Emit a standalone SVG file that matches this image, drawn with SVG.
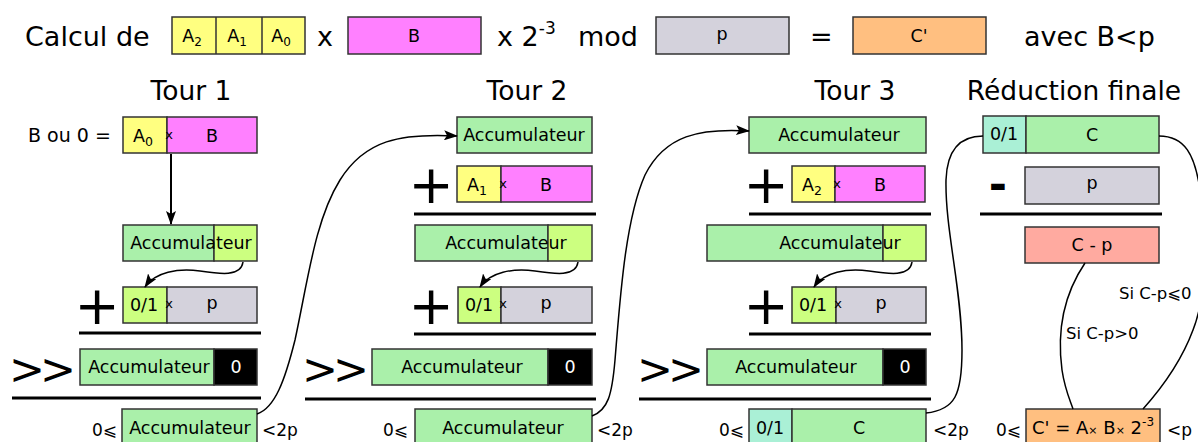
<svg xmlns="http://www.w3.org/2000/svg" width="1198" height="442" viewBox="0 0 1198 442">
<defs>
<style>
text{font-family:"DejaVu Sans","Liberation Sans",sans-serif;fill:#000}
.t{font-size:17.5px;text-anchor:middle}
.big{font-size:27px}
.title{font-size:26.5px;text-anchor:middle}
.sm{font-size:17px}
.lbl{font-size:16.5px}
.op{font-size:54px;text-anchor:middle}
.shr{font-size:43px;letter-spacing:-5px}
.x{font-size:13px;text-anchor:middle}
.w{fill:#fff}
rect{stroke:#333;stroke-width:1.5}
.ye{fill:#ffff80}.ma{fill:#ff80ff}.gr{fill:#d4d2dc}.ac{fill:#aaf0aa}.yg{fill:#ccff80}.bk{fill:#000}.te{fill:#aaf0d6}.sa{fill:#ffaaa0}.or{fill:#ffbf80}
.sep{stroke:#000;stroke-width:3}
.div{stroke:#333;stroke-width:1.5}
.c{fill:none;stroke:#000;stroke-width:1.5}
</style>
<marker id="ah" viewBox="0 0 14 10" refX="13" refY="5" markerWidth="14" markerHeight="10" markerUnits="userSpaceOnUse" orient="auto">
<path d="M0,0 L14,5 L0,10 L3,5 Z" fill="#000"/>
</marker>
</defs>

<g id="header">
<text class="big" x="25" y="46" font-size="28">Calcul de</text>
<g id="hdrA">
<rect class="ye" x="172" y="17" width="133" height="37"/>
<line class="div" x1="216" y1="17" x2="216" y2="54"/>
<line class="div" x1="262" y1="17" x2="262" y2="54"/>
<text class="t" x="192" y="42">A<tspan font-size="12" dy="4">2</tspan></text>
<text class="t" x="237" y="42">A<tspan font-size="12" dy="4">1</tspan></text>
<text class="t" x="281" y="42">A<tspan font-size="12" dy="4">0</tspan></text>
</g>
<text class="big" x="317" y="46">x</text>
<g id="hdrB"><rect class="ma" x="348" y="17" width="133" height="37"/><text class="t" x="414" y="42">B</text></g>
<text class="big" x="497" y="46">x 2<tspan font-size="17" dy="-12">-3</tspan></text>
<text class="big" x="578" y="46">mod</text>
<g id="hdrP"><rect class="gr" x="656" y="17" width="133" height="37"/><text class="t" x="722" y="40">p</text></g>
<text class="big" x="810" y="46">=</text>
<g id="hdrC"><rect class="or" x="853" y="17" width="133" height="37"/><text class="t" x="919" y="42">C'</text></g>
<text class="big" x="1024" y="46">avec B&lt;p</text>
</g>

<g id="titles">
<text class="title" x="191" y="100">Tour 1</text>
<text class="title" x="527" y="100">Tour 2</text>
<text class="title" x="855" y="100">Tour 3</text>
<text class="title" x="1074" y="100">Réduction finale</text>
</g>

<g id="tour1">
<text x="28" y="142" font-size="19">B ou 0 =</text>
<g id="t1-ab">
<rect class="ye" x="123" y="117" width="44" height="36"/>
<rect class="ma" x="167" y="117" width="90" height="36"/>
<text class="t" x="143" y="142">A<tspan font-size="12.5" dy="4">0</tspan></text>
<text class="x" x="169" y="139">x</text>
<text class="t" x="212" y="142">B</text>
</g>
<g id="t1-acc">
<rect class="ac" x="123" y="225" width="91" height="36"/>
<rect class="yg" x="214" y="225" width="43" height="36"/>
<text class="t" x="191" y="249">Accumulateur</text>
</g>
<text class="op" x="97" y="324">+</text>
<g id="t1-p">
<rect class="yg" x="123" y="287" width="44" height="36"/>
<rect class="gr" x="167" y="287" width="90" height="36"/>
<text class="t" x="144" y="311">0/1</text>
<text class="x" x="169" y="308">x</text>
<text class="t" x="212" y="309">p</text>
</g>
<line class="sep" x1="79" y1="333" x2="261" y2="333"/>
<text class="shr" x="9" y="384">&gt;&gt;</text>
<g id="t1-shift">
<rect class="ac" x="80" y="349" width="134" height="36"/>
<rect class="bk" x="214" y="349" width="43" height="36"/>
<text class="t" x="149" y="373">Accumulateur</text>
<text class="t w" x="236" y="373">0</text>
</g>
<line class="sep" x1="12" y1="398" x2="261" y2="398"/>
<g id="t1-out">
<text class="sm" x="117" y="436" text-anchor="end">0⩽</text>
<rect class="ac" x="122" y="409" width="135" height="40"/>
<text class="t" x="190" y="434">Accumulateur</text>
<text class="sm" x="262" y="436">&lt;2p</text>
</g>
</g>

<g id="tour2">
<g id="t2-in"><rect class="ac" x="457" y="117" width="135" height="36"/><text class="t" x="524" y="141">Accumulateur</text></g>
<text class="op" x="431" y="203">+</text>
<g id="t2-ab">
<rect class="ye" x="457" y="166" width="44" height="36"/>
<rect class="ma" x="501" y="166" width="91" height="36"/>
<text class="t" x="477" y="191">A<tspan font-size="12.5" dy="4">1</tspan></text>
<text class="x" x="503" y="188">x</text>
<text class="t" x="546" y="191">B</text>
</g>
<line class="sep" x1="414" y1="214" x2="596" y2="214"/>
<g id="t2-acc">
<rect class="ac" x="415" y="225" width="133" height="36"/>
<rect class="yg" x="548" y="225" width="44" height="36"/>
<text class="t" x="506" y="249">Accumulateur</text>
</g>
<text class="op" x="431" y="324">+</text>
<g id="t2-p">
<rect class="yg" x="458" y="287" width="43" height="36"/>
<rect class="gr" x="501" y="287" width="91" height="36"/>
<text class="t" x="479" y="311">0/1</text>
<text class="x" x="503" y="308">x</text>
<text class="t" x="546" y="309">p</text>
</g>
<line class="sep" x1="414" y1="334" x2="596" y2="334"/>
<text class="shr" x="302" y="384">&gt;&gt;</text>
<g id="t2-shift">
<rect class="ac" x="372" y="349" width="176" height="36"/>
<rect class="bk" x="548" y="349" width="44" height="36"/>
<text class="t" x="462" y="373">Accumulateur</text>
<text class="t w" x="570" y="373">0</text>
</g>
<line class="sep" x1="305" y1="399" x2="596" y2="399"/>
<g id="t2-out">
<text class="sm" x="408" y="436" text-anchor="end">0⩽</text>
<rect class="ac" x="415" y="409" width="177" height="40"/>
<text class="t" x="503" y="434">Accumulateur</text>
<text class="sm" x="597" y="436">&lt;2p</text>
</g>
</g>

<g id="tour3">
<g id="t3-in"><rect class="ac" x="749" y="117" width="177" height="36"/><text class="t" x="839" y="141">Accumulateur</text></g>
<text class="op" x="766" y="203">+</text>
<g id="t3-ab">
<rect class="ye" x="792" y="166" width="43" height="36"/>
<rect class="ma" x="835" y="166" width="90" height="36"/>
<text class="t" x="812" y="191">A<tspan font-size="12.5" dy="4">2</tspan></text>
<text class="x" x="837" y="188">x</text>
<text class="t" x="880" y="191">B</text>
</g>
<line class="sep" x1="749" y1="214" x2="931" y2="214"/>
<g id="t3-acc">
<rect class="ac" x="707" y="225" width="176" height="36"/>
<rect class="yg" x="883" y="225" width="43" height="36"/>
<text class="t" x="840" y="249">Accumulateur</text>
</g>
<text class="op" x="766" y="324">+</text>
<g id="t3-p">
<rect class="yg" x="792" y="287" width="44" height="36"/>
<rect class="gr" x="836" y="287" width="90" height="36"/>
<text class="t" x="813" y="311">0/1</text>
<text class="x" x="838" y="308">x</text>
<text class="t" x="881" y="309">p</text>
</g>
<line class="sep" x1="749" y1="334" x2="931" y2="334"/>
<text class="shr" x="637" y="384">&gt;&gt;</text>
<g id="t3-shift">
<rect class="ac" x="707" y="349" width="176" height="36"/>
<rect class="bk" x="883" y="349" width="43" height="36"/>
<text class="t" x="796" y="373">Accumulateur</text>
<text class="t w" x="905" y="373">0</text>
</g>
<line class="sep" x1="639" y1="399" x2="931" y2="399"/>
<g id="t3-out">
<text class="sm" x="744" y="436" text-anchor="end">0⩽</text>
<rect class="te" x="749" y="409" width="43" height="40"/>
<rect class="ac" x="792" y="409" width="134" height="40"/>
<text class="t" x="770" y="434">0/1</text>
<text class="t" x="859" y="434">C</text>
<text class="sm" x="933" y="436">&lt;2p</text>
</g>
</g>

<g id="reduction">
<g id="r-c">
<rect class="te" x="983" y="116" width="43" height="37"/>
<rect class="ac" x="1026" y="116" width="133" height="37"/>
<text class="t" x="1004" y="140" font-size="16">0/1</text>
<text class="t" x="1092" y="141">C</text>
</g>
<text x="998" y="200" font-size="44" font-weight="bold" text-anchor="middle">-</text>
<g id="r-p"><rect class="gr" x="1025" y="167" width="134" height="37"/><text class="t" x="1092" y="189">p</text></g>
<line class="sep" x1="980" y1="214" x2="1162" y2="214"/>
<g id="r-cp"><rect class="sa" x="1025" y="227" width="134" height="36"/><text class="t" x="1092" y="251">C - p</text></g>
<g id="r-out">
<text class="sm" x="1021" y="436" text-anchor="end">0⩽</text>
<rect class="or" x="1026" y="409" width="134" height="40"/>
<text x="1093" y="434" font-size="18" text-anchor="middle">C' = A<tspan font-size="11">×</tspan> B<tspan font-size="11">×</tspan> 2<tspan font-size="12" dy="-8">-3</tspan></text>
<text class="sm" x="1167" y="436">&lt;p</text>
</g>
<text class="lbl" x="1066" y="339">Si C-p&gt;0</text>
<text class="lbl" x="1119" y="299">Si C-p⩽0</text>
</g>

<g id="connectors">
<line x1="171" y1="154" x2="171" y2="224" stroke="#000" stroke-width="2" marker-end="url(#ah)"/>
<path class="c" d="M243,262 C241,277 220,274 200,271 C178,268 155,272 145,287" marker-end="url(#ah)"/>
<path class="c" d="M578,262 C576,277 555,274 535,271 C513,268 490,272 480,287" marker-end="url(#ah)"/>
<path class="c" d="M912,262 C910,277 889,274 869,271 C847,268 824,272 814,287" marker-end="url(#ah)"/>
<path class="c" d="M257,414 C275,408 285,380 295,340 C308,280 315,220 340,180 C365,140 400,133 457,136" marker-end="url(#ah)"/>
<path class="c" d="M592,416 C608,410 612,395 615,360 C620,300 625,220 645,175 C665,135 700,128 749,131" marker-end="url(#ah)"/>
<path class="c" d="M926,413 C955,410 962,395 962,350 C962,290 945,230 946,180 C947,150 960,136 983,136"/>
<path class="c" d="M1085,263 C1060,300 1058,340 1062,370 C1065,390 1070,400 1073,409"/>
<path class="c" d="M1159,136 C1185,136 1195,155 1200,190 C1208,250 1205,300 1193,330 C1180,365 1160,390 1143,409"/>
</g>
</svg>
